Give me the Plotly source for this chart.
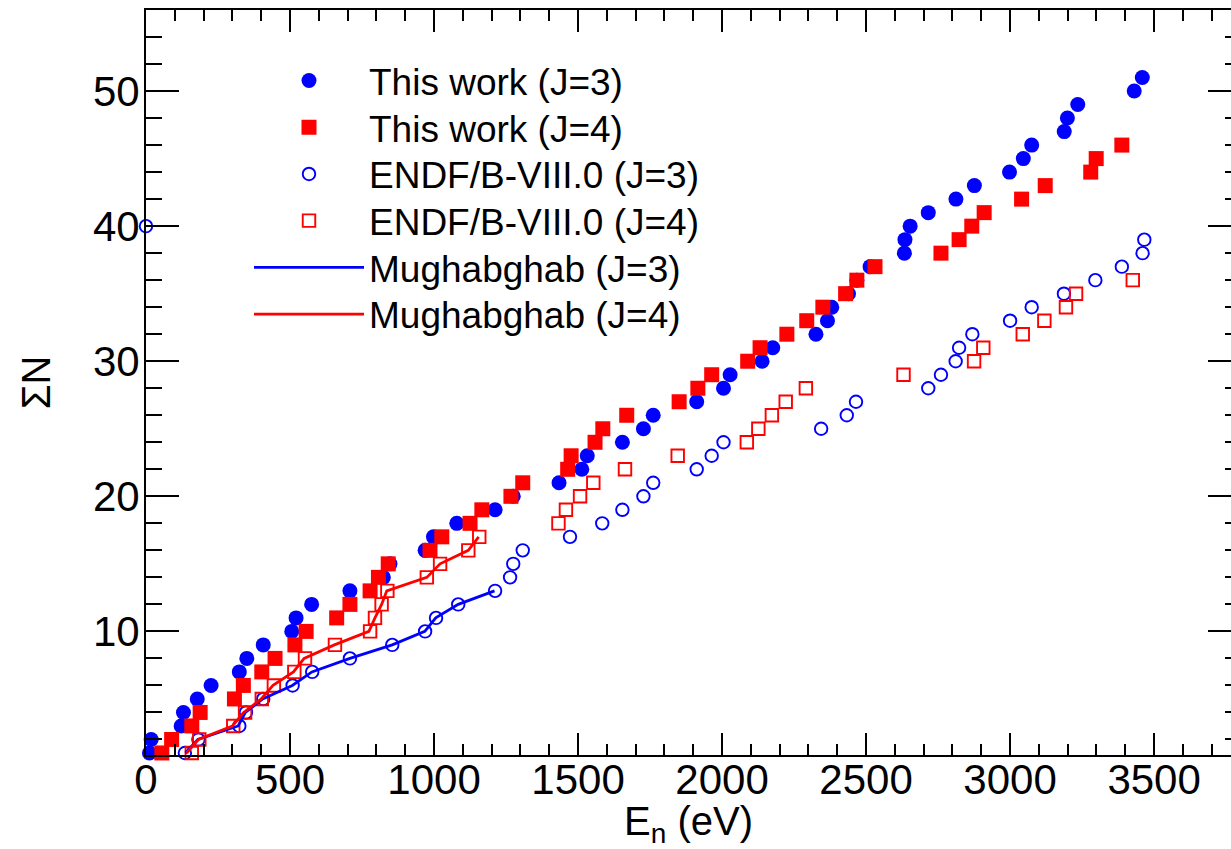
import plotly.graph_objects as go

# ---------------- data ----------------
# This work, J=3 (filled circles): energies (eV); cumulative number = 1..N
tw_j3_E = [12, 18, 122, 130, 178, 226, 324, 350, 407, 506, 521, 575, 708, 824, 847,
           969, 998, 1079, 1212, 1275, 1434, 1513, 1532, 1654, 1727, 1761, 1912, 2005,
           2028, 2139, 2176, 2326, 2366, 2381, 2439, 2468, 2514, 2633, 2635, 2653, 2716,
           2812, 2876, 2998, 3046, 3075, 3188, 3199, 3235, 3431, 3459]
tw_j3_N = list(range(1, len(tw_j3_E) + 1))

# This work, J=4 (filled squares)
tw_j4_E = [55, 89, 159, 188, 307, 338, 402, 448, 517, 556, 662, 708, 778, 807, 841,
           986, 1027, 1125, 1166, 1267, 1308, 1464, 1476, 1559, 1586, 1669, 1851, 1916,
           1964, 2089, 2132, 2225, 2294, 2350, 2429, 2468, 2531, 2760, 2823, 2867, 2910,
           3040, 3122, 3280, 3299, 3388]
tw_j4_N = list(range(1, len(tw_j4_E) + 1))

# ENDF/B-VIII.0, J=3 (open circles) -- includes the stray point at (0, 40)
endf_j3_E = [135, 182, 324, 347, 407, 509, 577, 708, 855, 969, 1007, 1084, 1212, 1264,
             1275, 1308, 1472, 1584, 1654, 1727, 1761, 1912, 1964, 2005, 2344, 2433,
             2465, 2716, 2760, 2811, 2823, 2869, 3000, 3075, 3187, 3296, 3388, 3460,
             3466, 0]
endf_j3_N = list(range(1, 40)) + [40]

# ENDF/B-VIII.0, J=4 (open squares)
endf_j4_E = [159, 185, 303, 344, 402, 444, 515, 552, 656, 778, 795, 818, 838, 975,
             1021, 1119, 1157, 1432, 1458, 1507, 1553, 1663, 1846, 2086, 2126, 2173,
             2221, 2291, 2630, 2875, 2907, 3044, 3119, 3194, 3229, 3426]
endf_j4_N = list(range(1, len(endf_j4_E) + 1))

# Mughabghab (lines)
mug_j3_E = [137, 180, 320, 345, 405, 508, 576, 708, 855, 968, 1006, 1084, 1210]
mug_j3_N = list(range(1, len(mug_j3_E) + 1))
mug_j4_E = [141, 182, 300, 339, 400, 441, 512, 549, 654, 774, 795, 818, 836, 975,
            1021, 1119, 1155]
mug_j4_N = list(range(1, len(mug_j4_E) + 1))

BLUE = "#0000FF"
RED = "#FF0000"
FONT = "Liberation Sans, Arial, Helvetica, sans-serif"

fig = go.Figure()

fig.add_trace(go.Scatter(x=tw_j3_E, y=tw_j3_N, mode="markers", name="This work (J=3)",
                         legend="legend", cliponaxis=False,
                         marker=dict(symbol="circle", size=15, color=BLUE,
                                     line=dict(width=0))))
fig.add_trace(go.Scatter(x=tw_j4_E, y=tw_j4_N, mode="markers", name="This work (J=4)",
                         legend="legend2", cliponaxis=False,
                         marker=dict(symbol="square", size=15, color=RED,
                                     line=dict(width=0))))
fig.add_trace(go.Scatter(x=endf_j3_E, y=endf_j3_N, mode="markers",
                         name="ENDF/B-VIII.0 (J=3)", legend="legend3", cliponaxis=False,
                         marker=dict(symbol="circle-open", size=12.5, color=BLUE,
                                     line=dict(width=1.9, color=BLUE))))
fig.add_trace(go.Scatter(x=endf_j4_E, y=endf_j4_N, mode="markers",
                         name="ENDF/B-VIII.0 (J=4)", legend="legend4", cliponaxis=False,
                         marker=dict(symbol="square-open", size=12.5, color=RED,
                                     line=dict(width=1.9, color=RED))))
fig.add_trace(go.Scatter(x=mug_j3_E, y=mug_j3_N, mode="lines", name="Mughabghab (J=3)",
                         legend="legend5", cliponaxis=False,
                         line=dict(color=BLUE, width=2.8)))
fig.add_trace(go.Scatter(x=mug_j4_E, y=mug_j4_N, mode="lines", name="Mughabghab (J=4)",
                         legend="legend6", cliponaxis=False,
                         line=dict(color=RED, width=2.8)))
# helper (empty) trace so the right-hand tick axis is drawn
fig.add_trace(go.Scatter(x=[None], y=[None], yaxis="y2", showlegend=False,
                         hoverinfo="skip"))

PLOT_TOP, PLOT_BOTTOM = 10, 755
ROW_Y = [81, 127.7, 174.4, 221.1, 267.8, 314.5]
LEG_X = (249 - 146) / 1085


def legend_at(py):
    return dict(x=LEG_X, y=(PLOT_BOTTOM - py) / (PLOT_BOTTOM - PLOT_TOP),
                xanchor="left", yanchor="middle",
                bgcolor="rgba(0,0,0,0)", borderwidth=0,
                font=dict(size=37, family=FONT), itemwidth=110)


fig.update_layout(
    width=1231, height=849,
    margin=dict(l=146, r=0, t=PLOT_TOP, b=849 - PLOT_BOTTOM, pad=0),
    paper_bgcolor="white", plot_bgcolor="white",
    font=dict(family=FONT, color="black", size=36),
    xaxis=dict(range=[0, 3767], dtick=500, tick0=0,
               ticks="inside", ticklen=22, tickwidth=2, tickcolor="black",
               minor=dict(dtick=100, ticks="inside", ticklen=11, tickwidth=1.6,
                          tickcolor="black"),
               showline=True, linecolor="black", linewidth=2, mirror="ticks",
               showgrid=False, zeroline=False, ticklabelstandoff=-13,
               tickfont=dict(size=42, family=FONT),
               title=dict(text="E<sub>n</sub> (eV)", font=dict(size=40, family=FONT),
                          standoff=6)),
    yaxis=dict(range=[0.85, 56], dtick=10, tick0=0,
               ticks="inside", ticklen=33, tickwidth=2, tickcolor="black",
               minor=dict(dtick=2, ticks="inside", ticklen=16, tickwidth=1.6,
                          tickcolor="black"),
               showline=True, linecolor="black", linewidth=2, mirror=False,
               showgrid=False, zeroline=False, ticklabelstandoff=-4,
               tickfont=dict(size=42, family=FONT),
               title=dict(text="ΣN", font=dict(size=40, family=FONT), standoff=30)),
    yaxis2=dict(range=[0.85, 56], dtick=10, tick0=0, overlaying="y", side="right",
                anchor="x", ticks="inside", ticklen=23, tickwidth=2, tickcolor="black",
                minor=dict(dtick=2, ticks="inside", ticklen=6, tickwidth=1.6,
                           tickcolor="black"),
                showticklabels=False, showline=False, showgrid=False, zeroline=False),
    legend=legend_at(ROW_Y[0]),
    legend2=legend_at(ROW_Y[1]),
    legend3=legend_at(ROW_Y[2]),
    legend4=legend_at(ROW_Y[3]),
    legend5=legend_at(ROW_Y[4]),
    legend6=legend_at(ROW_Y[5]),
    showlegend=True,
)

fig.write_html("out.html")
